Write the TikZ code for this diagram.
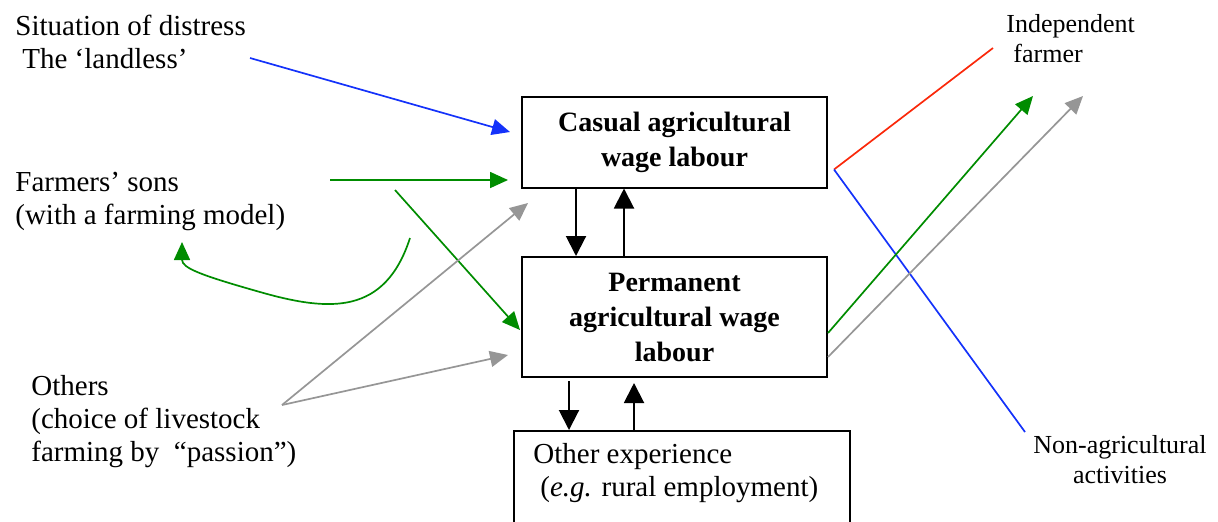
\documentclass[tikz,border=0pt]{standalone}
\usepackage{fontspec}
\setmainfont{LiberationSerif-Regular.ttf}[BoldFont=LiberationSerif-Bold.ttf,ItalicFont=LiberationSerif-Italic.ttf]
\usetikzlibrary{arrows.meta}
\definecolor{flowblue}{RGB}{20,50,250}
\definecolor{flowgreen}{RGB}{0,140,0}
\definecolor{flowgrey}{RGB}{150,150,150}
\definecolor{flowred}{RGB}{250,40,10}
\begin{document}
\begin{tikzpicture}[x=0.5pt,y=-0.5pt,
    lab/.style={inner sep=0pt,anchor=north west,align=left,font=\fontsize{14.5}{16.5}\selectfont},
    side/.style={inner sep=0pt,font=\fontsize{13}{15}\selectfont},
    box/.style={draw,line width=1pt,minimum width=152.5pt,align=center,font=\bfseries\fontsize{14}{17.5}\selectfont},
    tip/.style={-{Triangle[length=9pt,width=8pt]},line width=0.85pt},
    bigtip/.style={-{Triangle[length=10pt,width=10pt]},line width=1pt}]
    \useasboundingbox (0,0) rectangle (1218,521);
    \clip (0,0) rectangle (1218,521);
    % origins
    \node[lab] (distress) at (15,15) {Situation of distress\\\hspace*{3.5pt}The ‘landless’};
    \node[lab] (sons) at (15,172) {Farmers’ sons\\(with a farming model)};
    \node[lab] (others) at (31,375) {Others\\(choice of livestock\\farming by\ \ “passion”)};
    % the three stages
    \node[box,minimum height=45.5pt] (casual) at (674.5,142) {Casual agricultural\\wage labour};
    \node[box,minimum height=60pt] (perm) at (674.5,317) {Permanent\\agricultural wage\\labour};
    \node[draw,line width=1pt,anchor=north west,minimum width=168pt,minimum height=60pt] (other) at (513,430) {};
    \node[lab] (othertext) at (533,443) {Other experience\\\hspace*{3.5pt}(\textit{e.g.} rural employment)};
    % exits
    \node[side,anchor=north west,align=left] (indep) at (1006,14) {Independent\\\hspace*{3.5pt}farmer};
    \node[side,anchor=north,align=center] (nonagri) at (1120,435) {Non-agricultural\\activities};
    % free ends
    \coordinate (distressend) at (250,58);
    \coordinate (sonsend) at (330,180);
    \coordinate (sonsdiag) at (395,190);
    \coordinate (sonsloop) at (410,238);
    \coordinate (sonsback) at (182,242);
    \coordinate (othersend) at (282,405);
    \coordinate (redend) at (993,48);
    \coordinate (blueend) at (1025,432);
    \coordinate (greentip) at (1033,96);
    \coordinate (greytip) at (1083,96);
    % entries
    \draw[tip,flowblue] (distressend) -- (510,132);
    \draw[tip,flowgreen] (sonsend) -- (508,180);
    \draw[tip,flowgreen] (sonsdiag) -- (520,330);
    \draw[tip,flowgreen] (sonsloop) .. controls (385,315) and (330,312) .. (260,292)
        .. controls (200,275) and (182,268) .. (sonsback);
    \draw[tip,flowgrey] (othersend) -- (528,203);
    \draw[tip,flowgrey] (othersend) -- (508,355);
    % between the stages
    \draw[bigtip] ([xshift=27.5pt]casual.south west) -- ([xshift=27.5pt]casual.south west |- perm.north);
    \draw[bigtip] ([xshift=51.5pt]casual.south west |- perm.north) -- ([xshift=51.5pt]casual.south west);
    \draw[bigtip] ([shift={(48,3)}]perm.south west) -- ([xshift=24pt]perm.south west |- other.north);
    \draw[bigtip] ([xshift=56.5pt]perm.south west |- other.north) -- ([shift={(113,5)}]perm.south west);
    % exits
    \draw[line width=0.85pt,flowred] ([shift={(6,-19)}]casual.south east) coordinate (fork) -- (redend);
    \draw[line width=0.85pt,flowblue] (fork) -- (blueend);
    \draw[tip,flowgreen] ([yshift=-8pt]perm.east) -- (greentip);
    \draw[tip,flowgrey] ([yshift=-20pt]perm.east) -- (greytip);
\end{tikzpicture}
\end{document}
